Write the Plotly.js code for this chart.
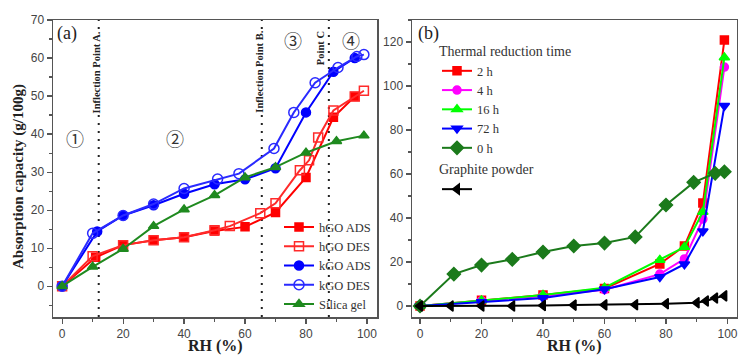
<!DOCTYPE html>
<html>
<head>
<meta charset="utf-8">
<script src="https://cdn.plot.ly/plotly-3.0.1.min.js"></script>
<style>html,body{margin:0;padding:0;background:#fff;}#chart{width:738px;height:356px;}</style>
</head>
<body>
<div id="chart"></div>
<script>
// ---------- Panel (a) data ----------
const hgoAdsX = [0, 11, 20, 30, 40, 50, 60, 70, 80, 89, 96];
const hgoAdsY = [0, 7.6, 10.8, 12.1, 12.9, 14.5, 15.6, 19.4, 28.6, 44.4, 49.9];
const hgoDesX = [0, 10, 20, 30, 40, 50, 55, 65, 70, 78, 81, 84, 89, 96, 99];
const hgoDesY = [0, 7.9, 10.8, 12.1, 12.9, 14.7, 15.8, 19.2, 21.8, 30.5, 33.1, 39.1, 46.2, 49.9, 51.4];
const kgoAdsX = [0, 11.5, 20, 30, 40, 50, 60, 70, 80, 89, 96];
const kgoAdsY = [0, 14.4, 18.6, 21.3, 24.3, 26.8, 28.1, 31.0, 45.7, 56.4, 60.0];
const kgoDesX = [0, 10, 20, 30, 40, 51, 58, 69.5, 76, 83, 90.5, 96.7, 99];
const kgoDesY = [0, 13.9, 18.6, 21.6, 25.7, 28.2, 29.6, 36.2, 45.7, 53.5, 57.5, 60.4, 60.9];
const silicaX = [0, 10, 20, 30, 40, 50, 60, 70, 80, 90, 99];
const silicaY = [0, 5.1, 9.8, 15.8, 20.2, 23.9, 28.6, 31.3, 35.1, 38.1, 39.6];
const inflectionX = [12, 65.5, 87.5];
const inflectionLabels = ["Inflection Point A.", "Inflection Point B.", "Point C"];
const regionLabels = ["\u2460", "\u2461", "\u2462", "\u2463"];

// ---------- Panel (b) data ----------
const rhB = [0, 20, 40, 60, 78, 86, 92, 99];
const h2Y = [0, 2.6, 5.0, 8.0, 19.1, 27.3, 46.8, 120.9];
const h4Y = [0, 2.4, 4.6, 7.4, 14.5, 21.4, 39.5, 108.6];
const h16Y = [0, 2.5, 5.0, 8.3, 20.9, 26.8, 42.7, 113.0];
const h72Y = [0, 1.8, 3.6, 7.6, 13.2, 19.0, 34.0, 91.0];
const h0X = [0, 11, 20, 30, 40, 50, 60, 70, 80, 89, 96, 99];
const h0Y = [0, 14.5, 18.6, 21.2, 24.5, 27.3, 28.6, 31.4, 45.9, 56.2, 60.3, 61.0];
const graphiteX = [0, 10, 20, 30, 40, 50, 60, 70, 80, 90, 93, 96, 99];
const graphiteY = [0, 0, 0, 0, 0.2, 0.4, 0.5, 0.6, 1.0, 1.5, 2.3, 3.6, 4.6];

const serif = "Liberation Serif, Times New Roman, serif";
const sans = "Liberation Sans, Arial, sans-serif";

function tr(x, y, name, color, symbol, size, xa, ya, legend) {
  return {
    x: x, y: y, name: name, type: 'scatter', mode: 'lines+markers',
    xaxis: xa, yaxis: ya, legend: legend,
    line: {color: color, width: 2},
    marker: {color: color, symbol: symbol, size: size, line: {color: color, width: 1.5}}
  };
}

const data = [
  tr(hgoAdsX, hgoAdsY, 'hGO ADS', '#ff0000', 'square', 8, 'x', 'y', 'legend'),
  tr(hgoDesX, hgoDesY, 'hGO DES', '#ff2a2a', 'square-open', 9, 'x', 'y', 'legend'),
  tr(kgoAdsX, kgoAdsY, 'kGO ADS', '#0000ff', 'circle', 9, 'x', 'y', 'legend'),
  tr(kgoDesX, kgoDesY, 'kGO DES', '#2a2aff', 'circle-open', 10, 'x', 'y', 'legend'),
  tr(silicaX, silicaY, 'Silica gel', '#1f8a1f', 'triangle-up', 9, 'x', 'y', 'legend'),

  tr(rhB, h2Y, '2 h', '#ff0000', 'square', 8, 'x2', 'y2', 'legend2'),
  tr(rhB, h4Y, '4 h', '#ff00ff', 'circle', 8, 'x2', 'y2', 'legend2'),
  tr(rhB, h16Y, '16 h', '#00ff00', 'triangle-up', 9, 'x2', 'y2', 'legend2'),
  tr(rhB, h72Y, '72 h', '#0000ff', 'triangle-down', 9, 'x2', 'y2', 'legend2'),
  tr(h0X, h0Y, '0 h', '#1b7a1b', 'diamond', 10, 'x2', 'y2', 'legend2'),
  tr(graphiteX, graphiteY, ' ', '#000000', 'triangle-left', 9, 'x2', 'y2', 'legend3')
];

const axisBase = {
  showline: true, linecolor: '#555', linewidth: 1.5, mirror: true,
  ticks: 'outside', ticklen: 5, tickwidth: 1.2, tickcolor: '#555',
  showgrid: false, zeroline: false,
  tickfont: {family: sans, size: 12, color: '#444'}
};

const annotations = [];
// axis titles
annotations.push({xref:'paper', yref:'paper', x:(18-53)/684, y:1-(177-20)/297, text:'<b>Absorption capacity (g/100g)</b>', textangle:-90, showarrow:false, font:{family:serif, size:15, color:'#222'}, xanchor:'center', yanchor:'middle'});
annotations.push({xref:'paper', yref:'paper', x:(215-53)/684, y:(317-346)/297, text:'<b>RH (%)</b>', showarrow:false, font:{family:serif, size:16, color:'#222'}, xanchor:'center', yanchor:'middle'});
annotations.push({xref:'paper', yref:'paper', x:(574-53)/684, y:(317-346)/297, text:'<b>RH (%)</b>', showarrow:false, font:{family:serif, size:16, color:'#222'}, xanchor:'center', yanchor:'middle'});
// panel labels
annotations.push({xref:'x', yref:'y', x:1.6, y:66.4, text:'(a)', showarrow:false, font:{family:serif, size:18, color:'#222'}});
annotations.push({xref:'x2', yref:'y2', x:2.8, y:124, text:'(b)', showarrow:false, font:{family:serif, size:18, color:'#222'}});
// inflection labels
const inflLabelPos = [[11.1, 56.2], [64.9, 56.4], [84.6, 62.6]];
inflectionLabels.forEach((t, i) => {
  annotations.push({xref:'x', yref:'y', x:inflLabelPos[i][0], y:inflLabelPos[i][1], text:'<b>'+t+'</b>', textangle:-90, showarrow:false, font:{family:serif, size:10.5, color:'#222'}, bgcolor:'#fff', borderpad:0});
});
// region numbers
const regionPos = [[4.3, 39.1], [37, 39.1], [75.7, 64.8], [94.8, 64.8]];
regionLabels.forEach((t, i) => {
  annotations.push({xref:'x', yref:'y', x:regionPos[i][0], y:regionPos[i][1], text:t, showarrow:false, font:{family:'Noto Sans CJK SC, DejaVu Sans', size:18, color:'#333'}});
});

const shapes = inflectionX.map(v => ({type:'line', xref:'x', yref:'y domain', x0:v, x1:v, y0:0, y1:1, line:{color:'#222', width:2, dash:'2px,6px'}, layer:'below'}));

const layout = {
  width: 738, height: 356,
  margin: {l:53, r:1, t:20, b:39},
  paper_bgcolor: '#fff', plot_bgcolor: '#fff',
  xaxis: Object.assign({}, axisBase, {domain:[0, 0.4737], range:[-3, 103.3], dtick:20, tick0:0, anchor:'y', minor:{ticks:'outside', ticklen:3, dtick:10, tickcolor:'#555'}}),
  yaxis: Object.assign({}, axisBase, {domain:[0, 1], range:[-8.1, 70], dtick:10, tick0:0, anchor:'x', minor:{ticks:'outside', ticklen:3, dtick:5, tickcolor:'#555'}}),
  xaxis2: Object.assign({}, axisBase, {domain:[0.5249, 1], range:[-2.6, 103.1], dtick:20, tick0:0, anchor:'y2', minor:{ticks:'outside', ticklen:3, dtick:10, tickcolor:'#555'}}),
  yaxis2: Object.assign({}, axisBase, {domain:[0, 1], range:[-5, 130], dtick:20, tick0:0, anchor:'x2', minor:{ticks:'outside', ticklen:3, dtick:10, tickcolor:'#555'}}),
  showlegend: true,
  legend: {x:(279-53)/684, y:-0.008, xanchor:'left', yanchor:'bottom', bgcolor:'rgba(0,0,0,0)', borderwidth:0, font:{family:serif, size:12.5, color:'#333'}, tracegroupgap:0},
  legend2: {x:(437-53)/684, y:(317-38)/297, xanchor:'left', yanchor:'top', bgcolor:'rgba(0,0,0,0)', borderwidth:0, font:{family:serif, size:12.5, color:'#333'}, title:{text:'Thermal reduction time', font:{family:serif, size:14, color:'#333'}}},
  legend3: {x:(437-53)/684, y:(317-156)/297, xanchor:'left', yanchor:'top', bgcolor:'rgba(0,0,0,0)', borderwidth:0, font:{family:serif, size:13, color:'#333'}, title:{text:'Graphite powder', font:{family:serif, size:14, color:'#333'}}},
  annotations: annotations,
  shapes: shapes
};

Plotly.newPlot('chart', data, layout, {staticPlot: true, displayModeBar: false});
</script>
</body>
</html>
